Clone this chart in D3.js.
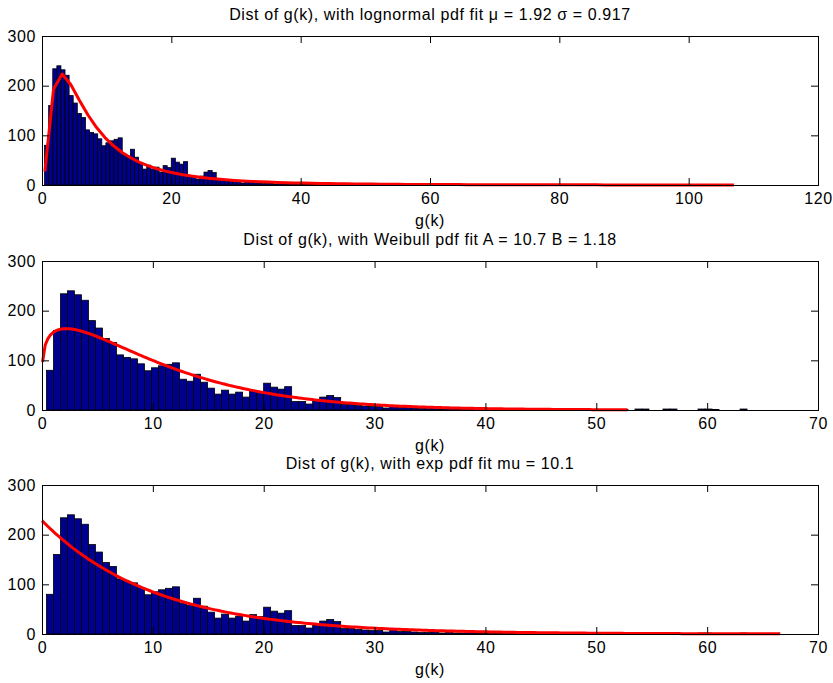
<!DOCTYPE html>
<html>
<head>
<meta charset="utf-8">
<script src="https://cdn.jsdelivr.net/npm/d3@7"></script>
<style>
  html, body { margin: 0; padding: 0; background: #fff; }
  svg { display: block; }
  text { font-family: "Liberation Sans", Arial, Helvetica, sans-serif; fill: #000; letter-spacing: 0.6px; }
</style>
</head>
<body>
<svg id="chart" width="833" height="683"></svg>
<script>
// Histogram of g(k): 100 equal-width bins starting at binStart
const binStart = 0.40;
const binWidth = 0.632;
const counts = [
  80,160,234,240,232,221,180,165,144,136,111,106,103,93,79,85,89,92,95,62,
  58,72,56,44,32,40,32,36,26,39,35,54,46,42,47,17,17,12,18,26,
  29,25,11,11,9,8,7,7,4,7,5,5,4,3,3,4,2,3,2,2,
  3,1,2,2,1,1,1,2,1,1,0,1,1,2,2,1,0,1,0,1,
  0,0,1,0,2,2,0,0,2,2,0,0,0,2,2,1,0,0,0,2
];

// Fitted distribution parameters
const lognParams = { mu: 1.92, sigma: 0.917 };
const weibParams = { A: 10.7, B: 1.18 };
const expParams = { mu: 10.1 };

// x range over which each fitted pdf is evaluated, and the number of samples
const lognRange = [0.45, 107, 81];
const weibRange = [0.05, 52.8, 220];
const expRange = [0, 66.6, 220];

// Axis settings per panel
const xDomains = [[0, 120], [0, 70], [0, 70]];
const xTicks = [[0, 20, 40, 60, 80, 100, 120], [0, 10, 20, 30, 40, 50, 60, 70], [0, 10, 20, 30, 40, 50, 60, 70]];
const yDomain = [0, 300];
const yTicks = [0, 100, 200, 300];
const xLabel = "g(k)";

// pdf values are scaled to counts: total samples times bin width
const total = d3.sum(counts);
const scaleFactor = total * binWidth;

const pdfs = [
  x => Math.exp(-Math.pow(Math.log(x) - lognParams.mu, 2) / (2 * lognParams.sigma * lognParams.sigma)) /
       (x * lognParams.sigma * Math.sqrt(2 * Math.PI)),
  x => (weibParams.B / weibParams.A) * Math.pow(x / weibParams.A, weibParams.B - 1) *
       Math.exp(-Math.pow(x / weibParams.A, weibParams.B)),
  x => Math.exp(-x / expParams.mu) / expParams.mu
];
const ranges = [lognRange, weibRange, expRange];
const titles = [
  `Dist of g(k), with lognormal pdf fit \u03BC = ${lognParams.mu} \u03C3 = ${lognParams.sigma}`,
  `Dist of g(k), with Weibull pdf fit A = ${weibParams.A} B = ${weibParams.B}`,
  `Dist of g(k), with exp pdf fit mu = ${expParams.mu}`
];

const bins = counts.map((c, i) => ({ x0: binStart + i * binWidth, x1: binStart + (i + 1) * binWidth, count: c }));

const svg = d3.select("#chart");
const left = 42, right = 818, plotH = 149;
const tops = [36, 261, 485];
const fontSize = 16;
const tickLen = 7;

tops.forEach((top, p) => {
  const x = d3.scaleLinear().domain(xDomains[p]).range([left, right]);
  const y = d3.scaleLinear().domain(yDomain).range([top + plotH, top]);
  const g = svg.append("g");

  // bars
  g.append("g").selectAll("rect").data(bins).join("rect")
    .attr("x", d => x(d.x0))
    .attr("width", d => x(d.x1) - x(d.x0))
    .attr("y", d => y(d.count))
    .attr("height", d => y(0) - y(d.count))
    .attr("fill", "#00008f")
    .attr("stroke", "#000")
    .attr("stroke-width", 0.8);

  // fitted pdf curve
  const [r0, r1, n] = ranges[p];
  const pts = d3.range(n).map(i => {
    const xv = r0 + (r1 - r0) * i / (n - 1);
    return [xv, pdfs[p](xv) * scaleFactor];
  });
  g.append("path")
    .datum(pts)
    .attr("fill", "none")
    .attr("stroke", "#ff0000")
    .attr("stroke-width", 3)
    .attr("stroke-linejoin", "round")
    .attr("d", d3.line().x(d => x(d[0])).y(d => y(d[1])));

  // axes: bottom/left with labels, top/right mirrored ticks
  const axB = d3.axisBottom(x).tickValues(xTicks[p]).tickSize(-tickLen).tickPadding(8).tickFormat(d3.format("d"));
  const axT = d3.axisTop(x).tickValues(xTicks[p]).tickSize(-tickLen).tickFormat("");
  const axL = d3.axisLeft(y).tickValues(yTicks).tickSize(-tickLen).tickPadding(6).tickFormat(d3.format("d"));
  const axR = d3.axisRight(y).tickValues(yTicks).tickSize(-tickLen).tickFormat("");

  const styleAxis = sel => {
    sel.selectAll("path.domain").attr("stroke", "#000").attr("stroke-width", 1);
    sel.selectAll(".tick line").attr("stroke", "#000").attr("stroke-width", 1);
    sel.selectAll("text").attr("font-size", fontSize).attr("font-family", "Liberation Sans, Arial, sans-serif").attr("fill", "#000");
  };
  g.append("g").attr("transform", `translate(0,${top + plotH})`).call(axB).call(styleAxis);
  g.append("g").attr("transform", `translate(0,${top})`).call(axT).call(styleAxis);
  g.append("g").attr("transform", `translate(${left},0)`).call(axL).call(styleAxis);
  g.append("g").attr("transform", `translate(${right},0)`).call(axR).call(styleAxis);

  // title and x label
  g.append("text")
    .attr("x", (left + right) / 2)
    .attr("y", top - 16)
    .attr("text-anchor", "middle")
    .attr("font-size", fontSize)
    .text(titles[p]);
  g.append("text")
    .attr("x", (left + right) / 2)
    .attr("y", top + plotH + 41)
    .attr("text-anchor", "middle")
    .attr("font-size", fontSize)
    .text(xLabel);
});
</script>
</body>
</html>
